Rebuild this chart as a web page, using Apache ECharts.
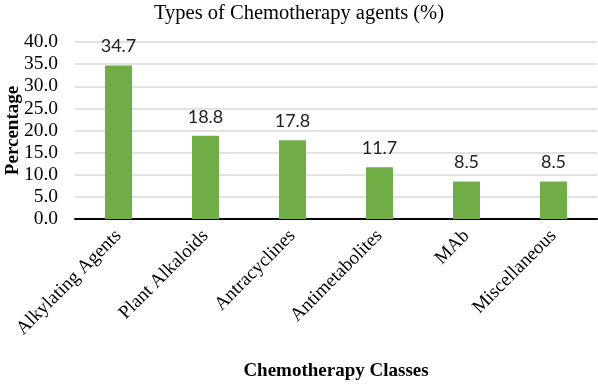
<!DOCTYPE html>
<html><head><meta charset="utf-8">
<script src="https://cdn.jsdelivr.net/npm/echarts@6/dist/echarts.min.js"></script>
<style>html,body{margin:0;padding:0;background:#fff}#c{width:598px;height:384px}</style>
</head><body><div id="c"></div>
<script>
const categories = ["Alkylating Agents","Plant Alkaloids","Antracyclines","Antimetabolites","MAb","Miscellaneous"];
const values = [34.7, 18.8, 17.8, 11.7, 8.5, 8.5];
const chart = echarts.init(document.getElementById('c'));
chart.setOption({
  animation: false,
  title: {text: "Types of Chemotherapy agents (%)", left: 'center', top: -2,
    textStyle: {fontFamily: 'Liberation Serif', fontSize: 20.5, fontWeight: 'normal', color: '#000'}},
  grid: {left: 75, right: 1, top: 42, bottom: 165, containLabel: false, outerBoundsMode: 'none'},
  xAxis: {type: 'category', data: categories,
    name: 'Chemotherapy Classes', nameLocation: 'middle', nameGap: 143, nameMoveOverlap: false,
    nameTextStyle: {fontFamily: 'Liberation Serif', fontSize: 19, fontWeight: 'bold', color: '#000'},
    axisLine: {lineStyle: {color: '#000', width: 2}}, axisTick: {show: false},
    axisLabel: {rotate: 45, interval: 0, margin: 14, fontFamily: 'Liberation Serif', fontSize: 19, color: '#000'}},
  yAxis: {type: 'value', min: 0, max: 40, interval: 5,
    name: 'Percentage', nameLocation: 'middle', nameGap: 52, nameMoveOverlap: false,
    nameTextStyle: {fontFamily: 'Liberation Serif', fontSize: 19, fontWeight: 'bold', color: '#000'},
    axisLabel: {formatter: v => v.toFixed(1), fontFamily: 'Liberation Serif', fontSize: 19.5, color: '#000', margin: 17},
    splitLine: {lineStyle: {color: '#d9d9d9', width: 1.5}}, axisLine: {show: false}, axisTick: {show: false}},
  series: [{type: 'bar', data: values, barWidth: 27,
    itemStyle: {color: '#70AD47'},
    label: {show: true, position: 'top', distance: 10, formatter: p => p.value.toFixed(1),
      fontFamily: 'Lato', fontSize: 18, color: '#222'}}]
});
</script></body></html>
